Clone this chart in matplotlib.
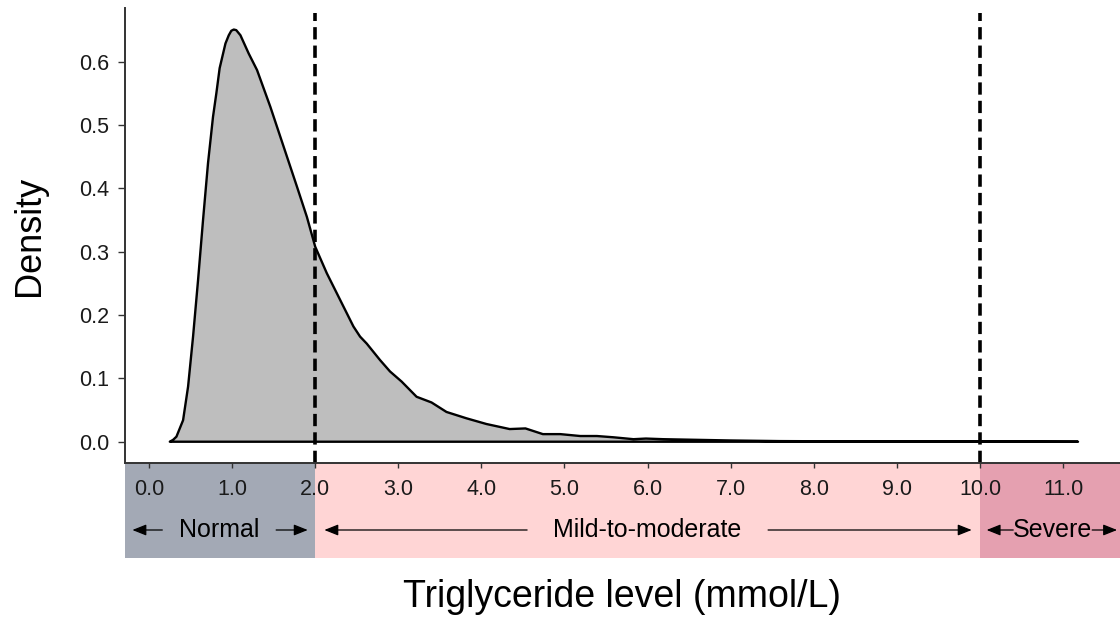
import matplotlib
matplotlib.use("Agg")
import matplotlib.pyplot as plt

plt.rcParams['font.family'] = ['Liberation Sans', 'DejaVu Sans']

# density curve
tg_level = [0.25, 0.29, 0.33, 0.41, 0.47, 0.53, 0.59, 0.65, 0.71, 0.77, 0.81,
            0.85, 0.92, 0.96, 0.99, 1.02, 1.05, 1.10, 1.20, 1.30, 1.46, 1.62,
            1.78, 1.90, 2.00, 2.14, 2.30, 2.46, 2.54, 2.62, 2.78, 2.90, 3.04,
            3.22, 3.40, 3.58, 3.82, 4.06, 4.34, 4.53, 4.74, 4.95, 5.19, 5.39,
            5.59, 5.83, 5.98, 6.19, 6.59, 6.99, 7.59, 8.50, 9.50, 10.50, 11.18]
density = [0.000, 0.003, 0.008, 0.034, 0.087, 0.166, 0.255, 0.350, 0.440, 0.513,
           0.550, 0.590, 0.629, 0.642, 0.649, 0.651, 0.650, 0.642, 0.613, 0.587,
           0.529, 0.466, 0.403, 0.355, 0.308, 0.266, 0.224, 0.182, 0.166, 0.155,
           0.129, 0.111, 0.095, 0.071, 0.062, 0.047, 0.037, 0.028, 0.020, 0.021,
           0.012, 0.012, 0.009, 0.009, 0.007, 0.004, 0.005, 0.004, 0.003, 0.002,
           0.001, 0.0005, 0.0003, 0.0002, 0.0]

cutoffs = [2.0, 10.0]
categories = ['Normal', 'Mild-to-moderate', 'Severe']
band_colors = ['#A3A9B5', '#FFD5D5', '#E5A0B0']
x_ticks = [0, 1, 2, 3, 4, 5, 6, 7, 8, 9, 10, 11]
y_ticks = [0.0, 0.1, 0.2, 0.3, 0.4, 0.5, 0.6]

W, H = 1120, 617
xmin, xmax = -0.295, 11.685

fig = plt.figure(figsize=(W / 100, H / 100), dpi=100)

# category band under the axis
bax = fig.add_axes([124.5 / W, (H - 558) / H, (W - 124.5) / W, 95 / H])
bax.set_xlim(xmin, xmax)
bax.set_ylim(0, 1)
bax.axis('off')
edges = [xmin] + cutoffs + [xmax]
for i in range(len(categories)):
    bax.axvspan(edges[i], edges[i + 1], color=band_colors[i], lw=0)

ty = (558 - 530) / 95
arrow = dict(arrowstyle='-|>,head_length=0.7,head_width=0.28', color='black',
             lw=0.9, shrinkA=0, shrinkB=0, mutation_scale=12)
# (label centre, left arrow tail, left head, right arrow tail, right head)
arrow_pos = [(0.84, 0.16, -0.20, 1.53, 1.91),
             (6.00, 4.55, 2.11, 7.45, 9.90),
             (10.87, 10.40, 10.08, 11.35, 11.65)]
for name, (cx, lt, lh, rt, rh) in zip(categories, arrow_pos):
    bax.text(cx, ty, name, ha='center', va='center', fontsize=18)
    bax.annotate('', xy=(lh, ty), xytext=(lt, ty), arrowprops=arrow)
    bax.annotate('', xy=(rh, ty), xytext=(rt, ty), arrowprops=arrow)

# main density plot
ax = fig.add_axes([124.5 / W, (H - 463) / H, (W - 124.5) / W, (463 - 8) / H])
ax.fill(tg_level, density, facecolor='#BEBEBE', edgecolor='black', lw=1.7,
        joinstyle='round')
for c in cutoffs:
    ax.axvline(c, color='black', lw=2.6, dashes=(3.4, 1.7), ymax=0.99)

ax.set_xlim(xmin, xmax)
ax.set_ylim(-0.0336, 0.685)
ax.set_xticks(x_ticks)
ax.set_xticklabels(['%.1f' % t for t in x_ticks])
ax.set_yticks(y_ticks)
ax.set_yticklabels(['%.1f' % t for t in y_ticks])
ax.tick_params(axis='y', labelsize=15.5, length=5, width=1, pad=6,
               color='#333333', labelcolor='#1a1a1a')
ax.tick_params(axis='x', labelsize=15.5, length=3.5, width=1, pad=8,
               color='#333333', labelcolor='#1a1a1a')
for s in ['top', 'right']:
    ax.spines[s].set_visible(False)
for s in ['left', 'bottom']:
    ax.spines[s].set_color('#333333')
    ax.spines[s].set_linewidth(1.4)

ax.set_ylabel('Density', fontsize=26, va='center')
ax.yaxis.set_label_coords((30 - 124.5) / (W - 124.5), 0.5)
fig.text(622 / W, (H - 597) / H, 'Triglyceride level (mmol/L)', fontsize=27,
         ha='center', va='center')

fig.savefig('out.png', dpi=100)
